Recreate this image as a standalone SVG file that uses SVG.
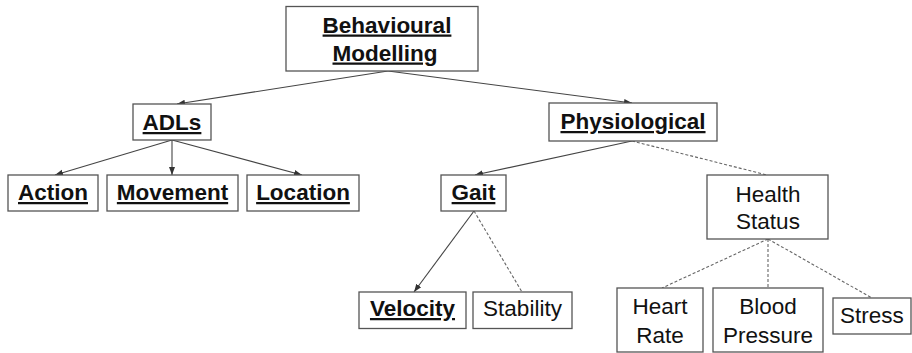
<svg xmlns="http://www.w3.org/2000/svg" width="912" height="353" viewBox="0 0 912 353">
<style>
.box{fill:#fff;stroke:#555;stroke-width:1.3}
.t{font-family:"Liberation Sans",Arial,sans-serif;font-size:22.5px;fill:#111;text-anchor:middle}
.b{font-weight:bold;text-decoration:underline}
.s{stroke:#444;stroke-width:1.1;fill:none}
.d{stroke:#666;stroke-width:1.1;fill:none;stroke-dasharray:3 2}
</style>
<defs>
<marker id="ah" markerUnits="userSpaceOnUse" markerWidth="8" markerHeight="8" viewBox="0 0 8 8" refX="8" refY="4" orient="auto">
<path d="M0,1 L8,4 L0,7 z" fill="#333"/>
</marker>
</defs>
<rect width="912" height="353" fill="#fff"/>
<g id="connectors">
<line class="s" x1="388" y1="71" x2="177" y2="104" marker-end="url(#ah)"/>
<line class="s" x1="388" y1="71" x2="632" y2="103" marker-end="url(#ah)"/>
<line class="s" x1="172" y1="140" x2="55" y2="175" marker-end="url(#ah)"/>
<line class="s" x1="172" y1="140" x2="172" y2="175" marker-end="url(#ah)"/>
<line class="s" x1="172" y1="140" x2="302" y2="175" marker-end="url(#ah)"/>
<line class="s" x1="632" y1="141" x2="475" y2="175" marker-end="url(#ah)"/>
<line class="d" x1="632" y1="141" x2="767" y2="175"/>
<line class="s" x1="474" y1="211" x2="414" y2="292" marker-end="url(#ah)"/>
<line class="d" x1="474" y1="211" x2="522" y2="292"/>
<line class="d" x1="768" y1="239" x2="662" y2="288"/>
<line class="d" x1="768" y1="239" x2="768" y2="288"/>
<line class="d" x1="768" y1="239" x2="872" y2="298"/>
</g>
<g id="behavioural">
<rect class="box" x="286" y="6.5" width="192" height="64.5"/>
<text class="t b" x="387" y="32.5">Behavioural</text>
<text class="t b" x="385" y="60.5">Modelling</text>
</g>
<g id="adls">
<rect class="box" x="133" y="104" width="78" height="36"/>
<text class="t b" x="172" y="130">ADLs</text>
</g>
<g id="action">
<rect class="box" x="8" y="175" width="90" height="36"/>
<text class="t b" x="53" y="200">Action</text>
</g>
<g id="movement">
<rect class="box" x="107" y="175" width="131" height="36"/>
<text class="t b" x="172.5" y="200">Movement</text>
</g>
<g id="location">
<rect class="box" x="247" y="175" width="112" height="36"/>
<text class="t b" x="303" y="200">Location</text>
</g>
<g id="physiological">
<rect class="box" x="549" y="103" width="168" height="38"/>
<text class="t b" x="633" y="129">Physiological</text>
</g>
<g id="gait">
<rect class="box" x="441" y="175" width="65" height="36"/>
<text class="t b" x="473.5" y="200">Gait</text>
</g>
<g id="health-status">
<rect class="box" x="707" y="175" width="121" height="64"/>
<text class="t" x="768" y="202">Health</text>
<text class="t" x="768" y="229">Status</text>
</g>
<g id="velocity">
<rect class="box" x="359" y="292" width="107" height="36.5"/>
<text class="t b" x="412.5" y="316">Velocity</text>
</g>
<g id="stability">
<rect class="box" x="473" y="292" width="99" height="36.5"/>
<text class="t" x="522.5" y="316">Stability</text>
</g>
<g id="heart-rate">
<rect class="box" x="617" y="288" width="86" height="64"/>
<text class="t" x="660" y="314">Heart</text>
<text class="t" x="660" y="343">Rate</text>
</g>
<g id="blood-pressure">
<rect class="box" x="713" y="288" width="110" height="64"/>
<text class="t" x="768" y="314">Blood</text>
<text class="t" x="768" y="343">Pressure</text>
</g>
<g id="stress">
<rect class="box" x="833" y="298" width="78" height="36"/>
<text class="t" x="872" y="323">Stress</text>
</g>
</svg>
